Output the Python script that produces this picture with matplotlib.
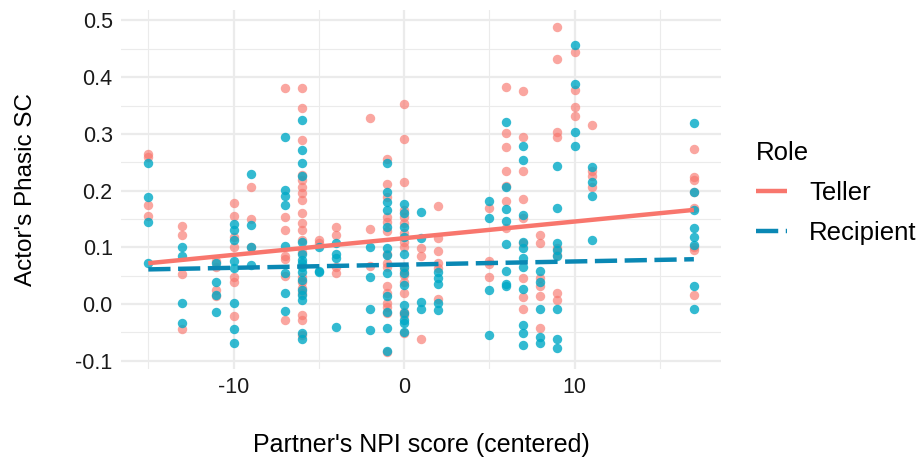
import numpy as np
import matplotlib
matplotlib.use("Agg")
import matplotlib.pyplot as plt

plt.rcParams['font.family'] = ['Liberation Sans', 'DejaVu Sans']
plt.rcParams['axes.unicode_minus'] = False

# partner NPI score columns (centered)
npi = [-15, -13, -11, -10, -9, -7, -6, -5, -4, -2, -1, 0, 1, 2, 5, 6, 7, 8, 9, 10, 11, 17]

# actor's phasic SC, one list per column
teller_sc = [
    [0.265, 0.26, 0.174, 0.155],
    [0.138, 0.121, 0.052, -0.045],
    [0.076, 0.066, 0.025, 0.014],
    [0.178, 0.155, 0.118, 0.101, 0.048, 0.038, -0.021],
    [0.206, 0.149, 0.101],
    [0.381, 0.153, 0.131, 0.084, 0.079, 0.049, -0.029],
    [0.381, 0.345, 0.289, 0.228, 0.219, 0.207, 0.195, 0.184, 0.16, 0.142,
     0.131, 0.113, 0.092, 0.048, 0.039, 0.029, 0.019, -0.019, -0.028, -0.055],
    [0.113, 0.108],
    [0.136, 0.122, 0.066, 0.054],
    [0.328, 0.132, 0.067],
    [0.255, 0.211, 0.189, 0.154, 0.145, 0.128, 0.089, 0.072, 0.066, 0.031,
     0.019, 0.001, -0.005, -0.016, -0.084],
    [0.353, 0.291, 0.216, 0.166, 0.154, 0.142, 0.125, 0.11, 0.1, 0.06,
     0.051, 0.039, 0.019, -0.014, -0.019, -0.052],
    [0.098, 0.084, -0.061],
    [0.172, 0.116, 0.094, 0.072, 0.063, 0.008],
    [0.169, 0.075, 0.071, 0.047],
    [0.382, 0.301, 0.276, 0.235, 0.208, 0.182, 0.134],
    [0.376, 0.294, 0.235, 0.186, 0.151, 0.107, 0.045, 0.012, -0.008],
    [0.122, 0.108, 0.045, 0.031, 0.014, -0.043],
    [0.489, 0.432, 0.304, 0.295, 0.098, 0.086, 0.02, 0.007],
    [0.445, 0.378, 0.347, 0.331],
    [0.316, 0.235, 0.225, 0.207],
    [0.274, 0.224, 0.218, 0.198, 0.169, 0.101, 0.096, 0.016],
]

recipient_sc = [
    [0.249, 0.189, 0.145, 0.072],
    [0.1, 0.085, 0.001, -0.034],
    [0.072, 0.039, 0.016, -0.014],
    [0.141, 0.131, 0.112, 0.076, 0.064, 0.002, -0.044, -0.068],
    [0.229, 0.139, 0.1, 0.069],
    [0.294, 0.201, 0.191, 0.175, 0.102, 0.054, 0.02, -0.012],
    [0.325, 0.272, 0.248, 0.225, 0.11, 0.089, 0.078, 0.072, 0.066, 0.057,
     0.042, 0.025, 0.016, 0.007, -0.051, -0.062],
    [0.101, 0.057, 0.058],
    [0.107, 0.089, 0.081, -0.04],
    [0.101, 0.048, -0.008, -0.046],
    [0.248, 0.198, 0.179, 0.166, 0.136, 0.098, 0.086, 0.054, 0.014, -0.014,
     -0.042, -0.083],
    [0.176, 0.16, 0.136, 0.119, 0.089, 0.066, 0.054, 0.034, -0.002, -0.016,
     -0.028, -0.034, -0.049],
    [0.163, 0.116, 0.004, -0.008],
    [0.057, 0.045, 0.035, 0.001, -0.011],
    [0.182, 0.151, 0.025, -0.054],
    [0.321, 0.207, 0.167, 0.147, 0.105, 0.059, 0.036, 0.031],
    [0.278, 0.254, 0.157, 0.11, 0.098, 0.081, 0.066, 0.026, -0.037, -0.052,
     -0.072],
    [0.059, 0.038, -0.009, -0.058, -0.069],
    [0.244, 0.17, 0.108, 0.095, 0.084, -0.009, -0.061, -0.078],
    [0.456, 0.388, 0.304, 0.278],
    [0.242, 0.216, 0.191, 0.112],
    [0.32, 0.198, 0.165, 0.134, 0.118, 0.104, 0.031, -0.008],
]

# fitted lines: intercept at 0, slope
teller_fit = (0.116, 0.00294)
recipient_fit = (0.0694, 0.00056)

teller_col = '#F8766D'
recip_col = '#00A9C6'
recip_line = '#0A88B4'

fig = plt.figure(figsize=(9.21, 4.57), dpi=100)
ax = fig.add_axes([0.1314, 0.1934, 0.6516, 0.7841])


def flat(ys):
    xs = np.concatenate([[x] * len(y) for x, y in zip(npi, ys)])
    return xs, np.concatenate(ys)


tx, ty = flat(teller_sc)
rx, ry = flat(recipient_sc)
ax.scatter(tx, ty, s=46, color=teller_col, alpha=0.65, lw=0, zorder=3)
ax.scatter(rx, ry, s=46, color=recip_col, alpha=0.8, lw=0, zorder=3)

xl = np.array([min(npi), max(npi)])
ax.plot(xl, teller_fit[0] + teller_fit[1] * xl, color=teller_col, lw=3.2,
        solid_capstyle='butt', zorder=4, label='Teller')
ax.plot(xl, recipient_fit[0] + recipient_fit[1] * xl, color=recip_line, lw=3.2,
        dashes=(5.0, 1.7), zorder=4, label='Recipient')

ax.set_xlim(-16.6, 18.6)
ax.set_ylim(-0.114, 0.518)
ax.set_xticks([-10, 0, 10])
ax.set_xticks([-15, -5, 5, 15], minor=True)
ax.set_yticks(np.arange(-0.1, 0.51, 0.1))
ax.set_yticks(np.arange(-0.05, 0.5, 0.1), minor=True)
ax.set_yticklabels(['-0.1', '0.0', '0.1', '0.2', '0.3', '0.4', '0.5'])
ax.grid(which='major', color='#EBEBEB', lw=1.6)
ax.grid(which='minor', color='#EBEBEB', lw=0.8)
ax.set_axisbelow(True)
for s in ax.spines.values():
    s.set_visible(False)
ax.tick_params(which='both', length=0, labelsize=15.5, labelcolor='#1a1a1a', pad=6)

ax.set_xlabel("Partner's NPI score (centered)", fontsize=18, labelpad=25)
ax.set_ylabel("Actor's Phasic SC", fontsize=17.5, labelpad=28)

leg = ax.legend(title='Role', loc='center left', bbox_to_anchor=(1.02, 0.49),
                frameon=False, fontsize=18.5, title_fontsize=18.5,
                handlelength=1.2, handletextpad=0.85, labelspacing=0.62)
leg._legend_box.align = 'left'

fig.savefig('out.png', dpi=100)
